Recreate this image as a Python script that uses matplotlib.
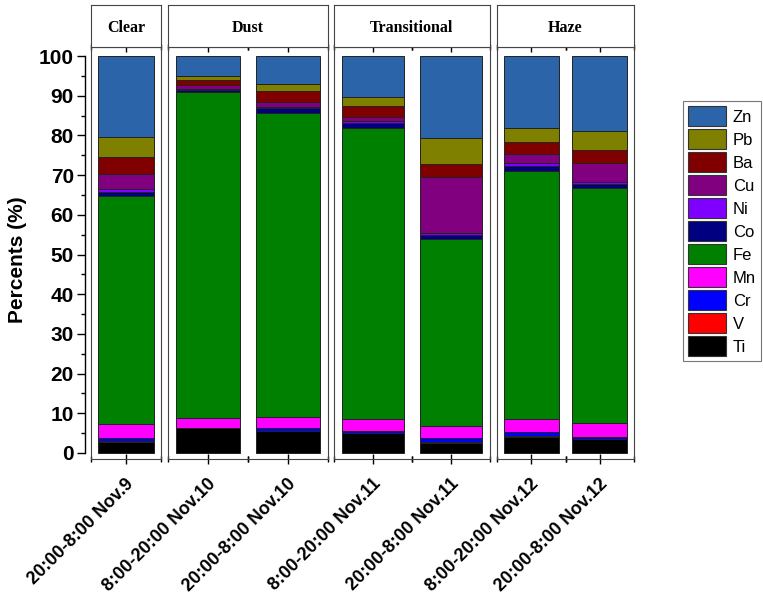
import matplotlib
matplotlib.use("Agg")
import matplotlib.pyplot as plt
from matplotlib.patches import Patch
from matplotlib.transforms import ScaledTranslation
import numpy as np

plt.rcParams['font.family'] = ['Liberation Sans', 'DejaVu Sans']

# Samples (x axis) and their pollution episodes
samples = ["20:00-8:00 Nov.9", "8:00-20:00 Nov.10", "20:00-8:00 Nov.10",
           "8:00-20:00 Nov.11", "20:00-8:00 Nov.11", "8:00-20:00 Nov.12",
           "20:00-8:00 Nov.12"]
episodes = ["Clear", "Dust", "Transitional", "Haze"]
episode_members = [[0], [1, 2], [3, 4], [5, 6]]

# Mass fraction of each element (%) per sample, stacked bottom to top
Ti = [2.85, 6.2, 5.55, 4.95, 2.6, 4.1, 3.45]
V = [0.08, 0.05, 0.07, 0.06, 0.08, 0.07, 0.06]
Cr = [0.82, 0.1, 0.63, 0.54, 1.02, 1.03, 0.59]
Mn = [3.65, 2.4, 2.9, 2.95, 3.2, 3.35, 3.4]
Fe = [57.4, 82.2, 76.45, 73.45, 47.1, 62.45, 59.2]
Co = [0.9, 0.45, 1.2, 1.05, 0.9, 1.4, 1.05]
Ni = [0.8, 0.3, 0.4, 0.6, 0.6, 0.6, 0.45]
Cu = [3.9, 0.9, 1.3, 1.1, 13.9, 2.2, 4.8]
Ba = [4.1, 1.3, 2.7, 2.8, 3.4, 3.1, 3.3]
Pb = [5.2, 1.0, 1.7, 2.25, 6.5, 3.5, 4.8]
Zn = [20.3, 5.1, 7.1, 10.25, 20.7, 18.2, 18.9]

elements = ["Ti", "V", "Cr", "Mn", "Fe", "Co", "Ni", "Cu", "Ba", "Pb", "Zn"]
values = [Ti, V, Cr, Mn, Fe, Co, Ni, Cu, Ba, Pb, Zn]
colors = ["#000000", "#FF0000", "#0000FF", "#FF00FF", "#008000", "#000080",
          "#8000FF", "#800080", "#800000", "#808000", "#2B64A8"]

W, H = 763, 608
fig = plt.figure(figsize=(W / 100, H / 100), dpi=100)


def fx(px):
    return px / W


def fy(px):
    return 1 - px / H


# pixel geometry of the shared x scale: one category = 81.5 px
x0_px, step_px = 125.5, 81.5
panel_px = [(91, 161), (168, 328), (334, 490), (497, 634)]
y_top_px, y_bot_px = 47, 459
y0_px, y100_px = 453, 56
unit = (y0_px - y100_px) / 100.0
ylim = (-(y_bot_px - y0_px) / unit, (y0_px - y_top_px) / unit)

x = np.arange(len(samples))

# left value axis
axl = fig.add_axes([fx(85), fy(y0_px), 0.01, (y0_px - y100_px) / H])
axl.set_ylim(0, 100)
axl.set_xticks([])
for s in ["top", "right", "bottom"]:
    axl.spines[s].set_visible(False)
axl.spines["left"].set_linewidth(1.0)
axl.set_yticks(np.arange(0, 101, 10))
axl.set_yticks(np.arange(5, 100, 10), minor=True)
axl.tick_params(axis="y", which="major", direction="out", length=6, width=1.0,
                labelsize=15, pad=2)
axl.tick_params(axis="y", which="minor", direction="out", length=3, width=1.0)
for lab in axl.get_yticklabels():
    lab.set_fontweight("bold")
axl.patch.set_alpha(0)
fig.text(fx(18), fy(260), "Percents (%)", rotation=90,
         ha="center", va="center", fontsize=15, fontweight="bold")

for (l_px, r_px), name, members in zip(panel_px, episodes, episode_members):
    ax = fig.add_axes([fx(l_px), fy(y_bot_px), (r_px - l_px) / W,
                       (y_bot_px - y_top_px) / H])
    ax.set_xlim((l_px - x0_px) / step_px, (r_px - x0_px) / step_px)
    ax.set_ylim(*ylim)
    bottom = np.zeros(len(samples))
    for el, vals, c in zip(elements, values, colors):
        vals = np.asarray(vals, dtype=float)
        ax.bar(x, vals, width=0.8, bottom=bottom, color=c,
               edgecolor="#222222", linewidth=0.7)
        bottom += vals
    for s in ax.spines.values():
        s.set_color("#444444")
        s.set_linewidth(0.8)
    ax.set_yticks([])
    ax.set_xticks(members)
    ax.set_xticks([m + 0.5 for m in members] + [m - 0.5 for m in members],
                  minor=True)
    ax.tick_params(axis="x", which="major", bottom=True, top=True,
                   direction="inout", length=7, width=1.0, pad=4)
    ax.tick_params(axis="x", which="minor", bottom=True, top=True,
                   direction="inout", length=4, width=1.0)
    ax.set_xticklabels([samples[m] for m in members], rotation=45,
                       ha="right", va="center", rotation_mode="anchor",
                       fontsize=13, fontweight="bold")
    for lab in ax.get_xticklabels():
        lab.set_transform(lab.get_transform() +
                          ScaledTranslation(5 / 100, -12 / 100,
                                            fig.dpi_scale_trans))

    # episode header box
    hx = fig.add_axes([fx(l_px), fy(y_top_px), (r_px - l_px) / W,
                       (y_top_px - 5) / H])
    hx.set_xticks([])
    hx.set_yticks([])
    for s in hx.spines.values():
        s.set_color("#444444")
        s.set_linewidth(0.8)
    hx.text(0.5, 0.45, name, transform=hx.transAxes, ha="center",
            va="center", fontsize=11.5, fontweight="bold",
            family=["Liberation Serif", "DejaVu Serif"])

handles = [Patch(facecolor=c, edgecolor="#333333", linewidth=0.8, label=el)
           for el, c in zip(elements[::-1], colors[::-1])]
leg = fig.legend(handles=handles, loc="upper left",
                 bbox_to_anchor=(fx(683), fy(101)), fontsize=12,
                 handlelength=2.3, handleheight=1.5, labelspacing=0.16,
                 handletextpad=0.38, borderpad=0.3, borderaxespad=0,
                 fancybox=False, framealpha=1)
leg.get_frame().set_edgecolor("#777777")
leg.get_frame().set_linewidth(0.8)

fig.savefig("out.png", dpi=100)
